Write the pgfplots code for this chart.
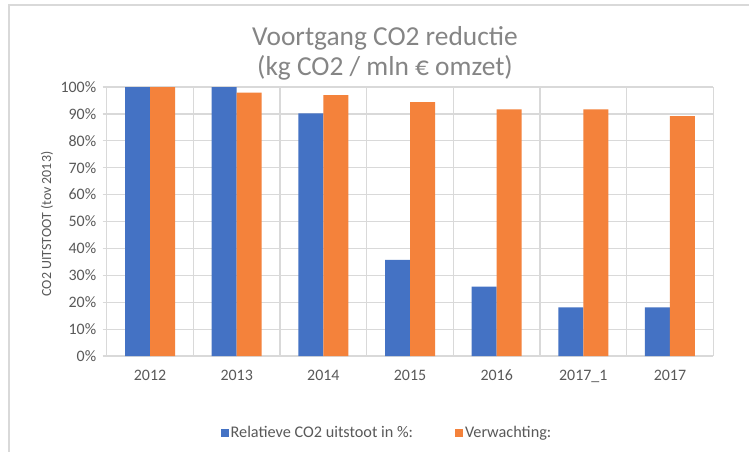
\documentclass[border=0pt]{standalone}
\usepackage{fontspec}
\setmainfont{Carlito}
\usepackage{pgfplots}
\pgfplotsset{compat=1.18}
\definecolor{xblue}{HTML}{4472C4}
\definecolor{xorange}{HTML}{F4823B}
\definecolor{xgrid}{HTML}{D9D9D9}
\definecolor{xtext}{HTML}{595959}
\definecolor{xtitle}{HTML}{858585}
\begin{document}
\begin{tikzpicture}[x=1bp,y=1bp]
\useasboundingbox (0,0) rectangle (749,-452);
\fill[white] (0,0) rectangle (749,-452);
\draw[xgrid, line width=2bp] (8.5,-452) -- (8.5,-5.5) -- (749,-5.5);
\node[text=xtitle, font=\fontsize{27.5}{30}\selectfont, align=center] at (385,-53) {Voortgang CO2 reductie\\(kg CO2 / mln € omzet)};
\node[rotate=90, text=xtext, font=\fontsize{14}{16}\selectfont] at (47,-224) {CO2 UITSTOOT (tov 2013)};
\begin{axis}[
  at={(106.7bp,-356bp)}, anchor=south west,
  scale only axis, width=606.6bp, height=269bp,
  xmin=-0.5, xmax=6.5, ymin=0, ymax=100,
  xtick={0,1,2,3,4,5,6},
  xticklabels={2012,2013,2014,2015,2016,2017\_1,2017},
  minor xtick={-0.5,0.5,1.5,2.5,3.5,4.5,5.5,6.5},
  ytick={0,10,...,100},
  yticklabel={\pgfmathprintnumber{\tick}\%},
  /pgf/number format/assume math mode=true,
  ymajorgrids, xminorgrids,
  grid style={xgrid, line width=1.2bp},
  minor grid style={xgrid, line width=1.2bp},
  axis line style={xgrid, line width=1.2bp},
  x axis line style={draw=none},
  axis x line*=bottom, axis y line*=left,
  xtick style={draw=none},
  minor tick length=0pt,
  ytick style={xgrid, line width=1.2bp},
  tick align=outside, major tick length=4bp,
  tick label style={text=xtext, font=\fontsize{16}{18}\selectfont},
  yticklabel style={xshift=-3bp},
  xticklabel style={yshift=-6bp, text height=11bp, text depth=3bp},
  ybar=0pt, bar width=25bp,
  legend style={at={(axis description cs:0.462,-0.286)}, anchor=center, draw=none,
    fill=none, font=\fontsize{16.3}{18}\selectfont, text=xtext,
    /tikz/every even column/.append style={column sep=40bp}},
  legend columns=2,
  legend image code/.code={\fill[#1] (0bp,-4bp) rectangle (8bp,4bp);},
  clip=false,
]
\addplot[fill=xblue, draw=none, bar shift=-12.5bp] coordinates {(0,100) (1,100) (2,90.2) (3,35.7) (4,25.8) (5,18.1) (6,18.1)};
\addplot[fill=xorange, draw=none, bar shift=12.5bp] coordinates {(0,100) (1,97.9) (2,97.0) (3,94.4) (4,91.7) (5,91.7) (6,89.2)};
\legend{Relatieve CO2 uitstoot in \%:, Verwachting:}
\end{axis}
\end{tikzpicture}
\end{document}
